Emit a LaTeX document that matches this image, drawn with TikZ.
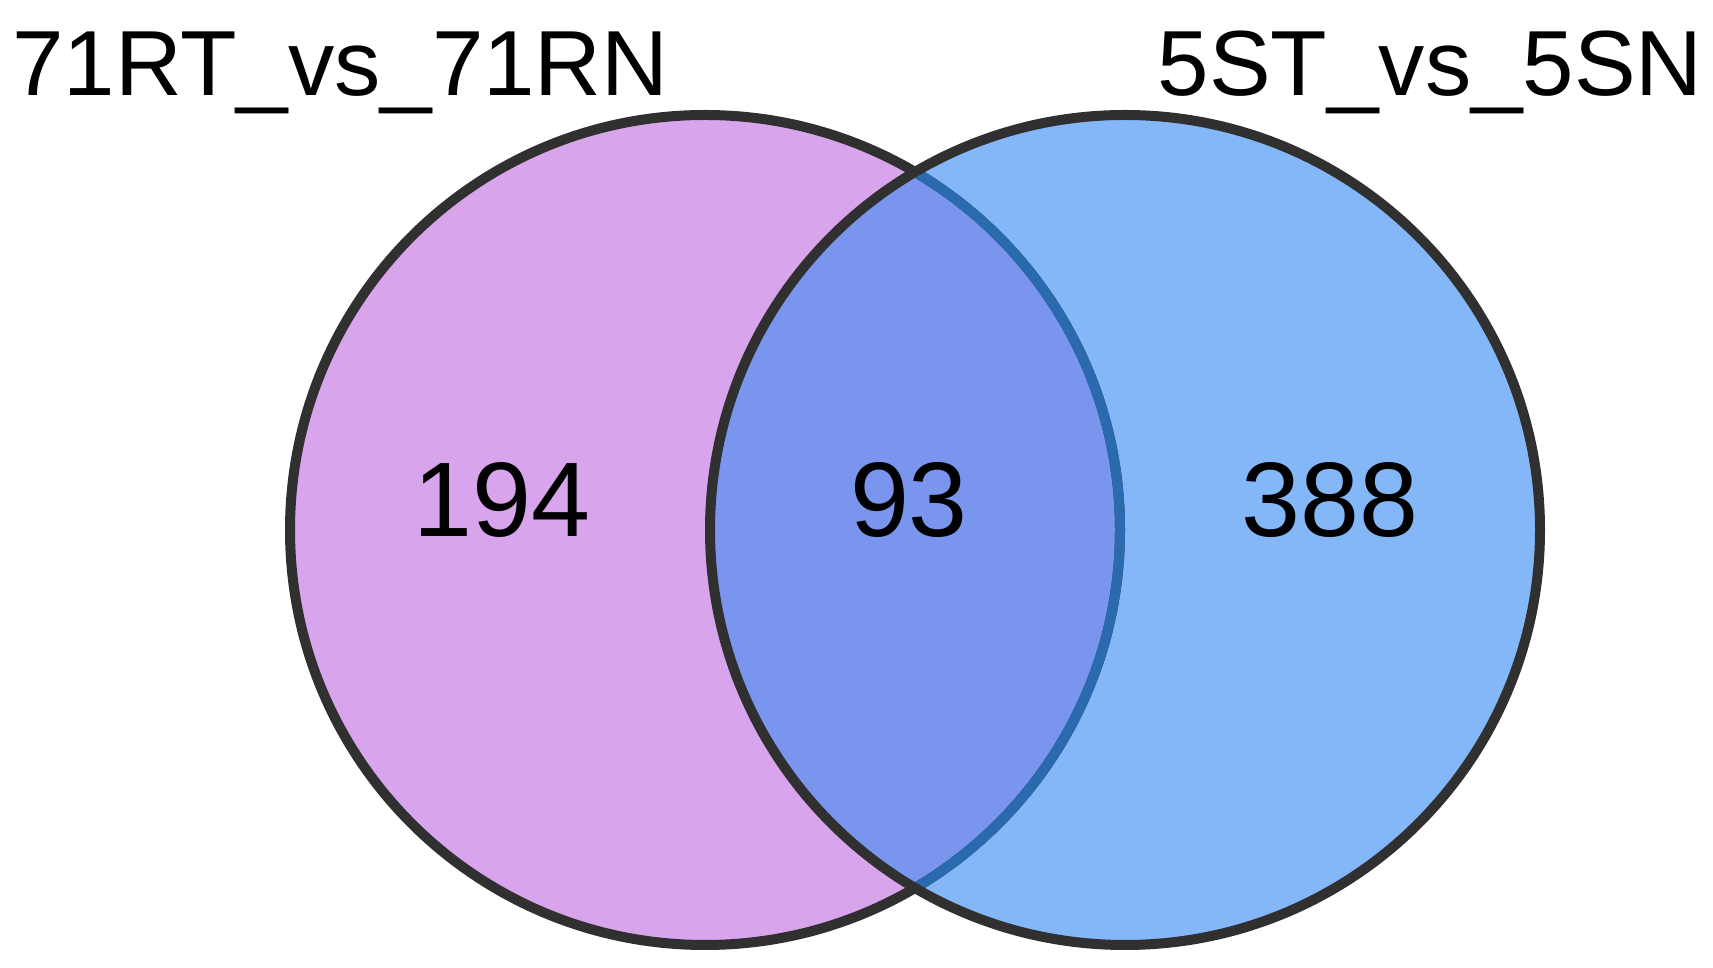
\documentclass[tikz,border=0pt]{standalone}
\usepackage{fontspec}
\setmainfont{Liberation Sans}
\definecolor{setA}{HTML}{D8A4EC}
\definecolor{setB}{HTML}{84B7F8}
\definecolor{setAB}{HTML}{7995EE}
\definecolor{rim}{HTML}{303030}
\definecolor{rimB}{HTML}{2A6AAE}
\tikzset{
  rimline/.style={line width=10pt,draw=rim},
  title/.style={inner sep=0pt,font=\fontsize{92.5}{100}\selectfont},
  count/.style={inner sep=0pt,anchor=base,font=\fontsize{106}{120}\selectfont}
}
\begin{document}
\begin{tikzpicture}[x=1pt,y=1pt]
\useasboundingbox (0,0) rectangle (1713,968);
\coordinate (L) at (705,438);
\coordinate (R) at (1125,438);
\def\rad{415}
% fills
\fill[setA] (L) circle (\rad);
\fill[setB] (R) circle (\rad);
\begin{scope}
  \clip (L) circle (\rad);
  \fill[setAB] (R) circle (\rad);
\end{scope}
% outlines
\draw[rimline] (L) circle (\rad);
\begin{scope}
  \clip (R) circle (\rad);
  \draw[line width=10pt,draw=rimB] (L) circle (\rad);
\end{scope}
\draw[rimline] (R) circle (\rad);
% labels
\node[title,anchor=base west] (ta) at (12,872) {71RT\_vs\_71RN};
\node[title,anchor=base east] (tb) at (1703,872) {5ST\_vs\_5SN};
\node[count] (na) at (502,431) {194};
\node[count] (nab) at (909,431) {93};
\node[count] (nb) at (1330,431) {388};
\end{tikzpicture}
\end{document}
